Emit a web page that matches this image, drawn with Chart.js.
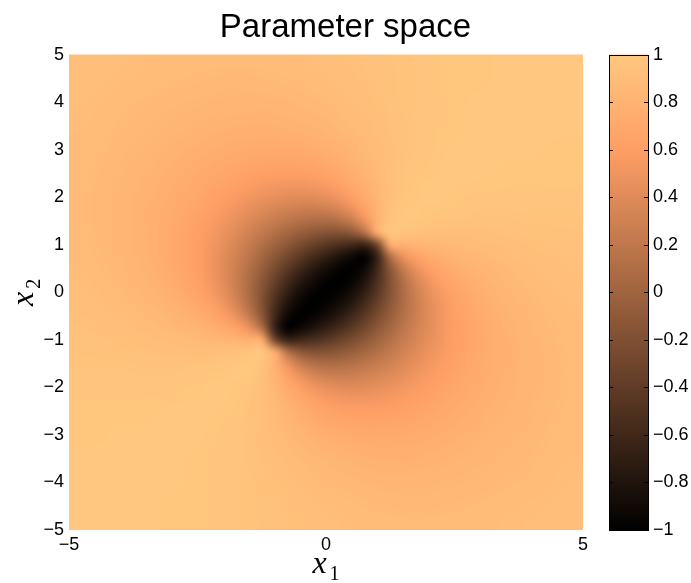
<!DOCTYPE html>
<html>
<head>
<meta charset="utf-8">
<title>Parameter space</title>
<script src="https://cdn.jsdelivr.net/npm/chart.js@4.4.1/dist/chart.umd.min.js"></script>
<style>
  html, body { margin: 0; padding: 0; background: #fff; }
  canvas { display: block; }
</style>
</head>
<body>
<canvas id="paramChart" width="691" height="583"></canvas>
<script>
// --- whole field, step 0.5: columns x1, rows x2 (top row is x2 = 5) ---
const xGrid = [-5, -4.5, -4, -3.5, -3, -2.5, -2, -1.5, -1, -0.5, 0, 0.5, 1, 1.5, 2, 2.5, 3, 3.5, 4, 4.5, 5];
const yGrid = [5, 4.5, 4, 3.5, 3, 2.5, 2, 1.5, 1, 0.5, 0, -0.5, -1, -1.5, -2, -2.5, -3, -3.5, -4, -4.5, -5];

const zRows = [
    [0.92, 0.92, 0.91, 0.90, 0.89, 0.89, 0.89, 0.89, 0.89, 0.90, 0.92, 0.93, 0.95, 0.96, 0.98, 0.99, 0.99, 1, 1, 1, 1],
    [0.92, 0.91, 0.90, 0.89, 0.88, 0.87, 0.86, 0.86, 0.87, 0.88, 0.90, 0.92, 0.94, 0.96, 0.98, 0.99, 0.99, 1, 1, 1, 1],
    [0.91, 0.90, 0.88, 0.87, 0.85, 0.84, 0.83, 0.83, 0.83, 0.85, 0.87, 0.90, 0.93, 0.96, 0.98, 0.99, 1, 1, 1, 1, 1],
    [0.90, 0.89, 0.87, 0.85, 0.83, 0.81, 0.79, 0.78, 0.78, 0.80, 0.83, 0.87, 0.91, 0.95, 0.98, 0.99, 1, 1, 1, 1, 1],
    [0.89, 0.88, 0.85, 0.83, 0.80, 0.77, 0.74, 0.72, 0.71, 0.72, 0.76, 0.82, 0.89, 0.95, 0.98, 1, 1, 1, 1, 0.99, 0.99],
    [0.89, 0.87, 0.84, 0.81, 0.77, 0.72, 0.68, 0.63, 0.60, 0.60, 0.65, 0.75, 0.87, 0.96, 0.99, 1, 1, 0.99, 0.99, 0.99, 0.99],
    [0.89, 0.86, 0.83, 0.79, 0.74, 0.68, 0.60, 0.52, 0.45, 0.41, 0.45, 0.60, 0.83, 0.97, 1, 0.99, 0.98, 0.98, 0.98, 0.98, 0.98],
    [0.89, 0.86, 0.83, 0.78, 0.72, 0.63, 0.52, 0.38, 0.24, 0.12, 0.08, 0.24, 0.78, 1, 0.97, 0.96, 0.95, 0.95, 0.96, 0.96, 0.96],
    [0.89, 0.87, 0.83, 0.78, 0.71, 0.60, 0.45, 0.24, 0.00, -0.24, -0.45, -0.60, -0.50, 0.78, 0.83, 0.87, 0.89, 0.91, 0.93, 0.94, 0.95],
    [0.90, 0.88, 0.85, 0.80, 0.72, 0.60, 0.41, 0.12, -0.24, -0.60, -0.87, -1, -0.60, 0.24, 0.60, 0.75, 0.82, 0.87, 0.90, 0.92, 0.93],
    [0.92, 0.90, 0.87, 0.83, 0.76, 0.65, 0.45, 0.08, -0.45, -0.87, -1, -0.87, -0.45, 0.08, 0.45, 0.65, 0.76, 0.83, 0.87, 0.90, 0.92],
    [0.93, 0.92, 0.90, 0.87, 0.82, 0.75, 0.60, 0.24, -0.60, -1, -0.87, -0.60, -0.24, 0.12, 0.41, 0.60, 0.72, 0.80, 0.85, 0.88, 0.90],
    [0.95, 0.94, 0.93, 0.91, 0.89, 0.87, 0.83, 0.78, -0.50, -0.60, -0.45, -0.24, 0.00, 0.24, 0.45, 0.60, 0.71, 0.78, 0.83, 0.87, 0.89],
    [0.96, 0.96, 0.96, 0.95, 0.95, 0.96, 0.97, 1, 0.78, 0.24, 0.08, 0.12, 0.24, 0.38, 0.52, 0.63, 0.72, 0.78, 0.83, 0.86, 0.89],
    [0.98, 0.98, 0.98, 0.98, 0.98, 0.99, 1, 0.97, 0.83, 0.60, 0.45, 0.41, 0.45, 0.52, 0.60, 0.68, 0.74, 0.79, 0.83, 0.86, 0.89],
    [0.99, 0.99, 0.99, 0.99, 1, 1, 0.99, 0.96, 0.87, 0.75, 0.65, 0.60, 0.60, 0.63, 0.68, 0.72, 0.77, 0.81, 0.84, 0.87, 0.89],
    [0.99, 0.99, 1, 1, 1, 1, 0.98, 0.95, 0.89, 0.82, 0.76, 0.72, 0.71, 0.72, 0.74, 0.77, 0.80, 0.83, 0.85, 0.88, 0.89],
    [1, 1, 1, 1, 1, 0.99, 0.98, 0.95, 0.91, 0.87, 0.83, 0.80, 0.78, 0.78, 0.79, 0.81, 0.83, 0.85, 0.87, 0.89, 0.90],
    [1, 1, 1, 1, 1, 0.99, 0.98, 0.96, 0.93, 0.90, 0.87, 0.85, 0.83, 0.83, 0.83, 0.84, 0.85, 0.87, 0.88, 0.90, 0.91],
    [1, 1, 1, 1, 0.99, 0.99, 0.98, 0.96, 0.94, 0.92, 0.90, 0.88, 0.87, 0.86, 0.86, 0.87, 0.88, 0.89, 0.90, 0.91, 0.92],
    [1, 1, 1, 1, 0.99, 0.99, 0.98, 0.96, 0.95, 0.93, 0.92, 0.90, 0.89, 0.89, 0.89, 0.89, 0.89, 0.90, 0.91, 0.92, 0.92]
];

// --- centre of the field, step 0.25, where the two poles sit ---
const xFine = [-2.5, -2.25, -2, -1.75, -1.5, -1.25, -1, -0.75, -0.5, -0.25, 0, 0.25, 0.5, 0.75, 1, 1.25, 1.5, 1.75, 2, 2.25, 2.5];
const yFine = [2.5, 2.25, 2, 1.75, 1.5, 1.25, 1, 0.75, 0.5, 0.25, 0, -0.25, -0.5, -0.75, -1, -1.25, -1.5, -1.75, -2, -2.25, -2.5];

const zFine = [
    [0.72, 0.70, 0.68, 0.65, 0.63, 0.61, 0.60, 0.60, 0.60, 0.62, 0.65, 0.69, 0.75, 0.81, 0.87, 0.92, 0.96, 0.98, 0.99, 1, 1],
    [0.70, 0.67, 0.64, 0.61, 0.58, 0.55, 0.53, 0.52, 0.52, 0.53, 0.56, 0.62, 0.69, 0.77, 0.85, 0.92, 0.96, 0.99, 1, 1, 1],
    [0.68, 0.64, 0.60, 0.56, 0.52, 0.48, 0.45, 0.42, 0.41, 0.42, 0.45, 0.51, 0.60, 0.72, 0.83, 0.92, 0.97, 0.99, 1, 1, 0.99],
    [0.65, 0.61, 0.56, 0.51, 0.45, 0.40, 0.35, 0.31, 0.28, 0.27, 0.29, 0.35, 0.47, 0.63, 0.81, 0.94, 0.99, 1, 0.99, 0.99, 0.98],
    [0.63, 0.58, 0.52, 0.45, 0.38, 0.31, 0.24, 0.18, 0.12, 0.09, 0.08, 0.12, 0.24, 0.48, 0.78, 0.96, 1, 0.99, 0.97, 0.96, 0.96],
    [0.61, 0.55, 0.48, 0.40, 0.31, 0.22, 0.12, 0.03, -0.05, -0.12, -0.17, -0.18, -0.12, 0.12, 0.75, 1, 0.96, 0.94, 0.92, 0.92, 0.92],
    [0.60, 0.53, 0.45, 0.35, 0.24, 0.12, 0.00, -0.12, -0.24, -0.35, -0.45, -0.53, -0.60, -0.66, -0.30, 0.75, 0.78, 0.81, 0.83, 0.85, 0.87],
    [0.60, 0.52, 0.42, 0.31, 0.18, 0.03, -0.12, -0.28, -0.43, -0.57, -0.69, -0.81, -0.92, -1, -0.66, 0.12, 0.48, 0.63, 0.72, 0.77, 0.81],
    [0.60, 0.52, 0.41, 0.28, 0.12, -0.05, -0.24, -0.43, -0.60, -0.75, -0.87, -0.96, -1, -0.92, -0.60, -0.12, 0.24, 0.47, 0.60, 0.69, 0.75],
    [0.62, 0.53, 0.42, 0.27, 0.09, -0.12, -0.35, -0.57, -0.75, -0.88, -0.97, -1, -0.96, -0.81, -0.53, -0.18, 0.12, 0.35, 0.51, 0.62, 0.69],
    [0.65, 0.56, 0.45, 0.29, 0.08, -0.17, -0.45, -0.69, -0.87, -0.97, -1, -0.97, -0.87, -0.69, -0.45, -0.17, 0.08, 0.29, 0.45, 0.56, 0.65],
    [0.69, 0.62, 0.51, 0.35, 0.12, -0.18, -0.53, -0.81, -0.96, -1, -0.97, -0.88, -0.75, -0.57, -0.35, -0.12, 0.09, 0.27, 0.42, 0.53, 0.62],
    [0.75, 0.69, 0.60, 0.47, 0.24, -0.12, -0.60, -0.92, -1, -0.96, -0.87, -0.75, -0.60, -0.43, -0.24, -0.05, 0.12, 0.28, 0.41, 0.52, 0.60],
    [0.81, 0.77, 0.72, 0.63, 0.48, 0.12, -0.66, -1, -0.92, -0.81, -0.69, -0.57, -0.43, -0.28, -0.12, 0.03, 0.18, 0.31, 0.42, 0.52, 0.60],
    [0.87, 0.85, 0.83, 0.81, 0.78, 0.75, -0.30, -0.66, -0.60, -0.53, -0.45, -0.35, -0.24, -0.12, 0.00, 0.12, 0.24, 0.35, 0.45, 0.53, 0.60],
    [0.92, 0.92, 0.92, 0.94, 0.96, 1, 0.75, 0.12, -0.12, -0.18, -0.17, -0.12, -0.05, 0.03, 0.12, 0.22, 0.31, 0.40, 0.48, 0.55, 0.61],
    [0.96, 0.96, 0.97, 0.99, 1, 0.96, 0.78, 0.48, 0.24, 0.12, 0.08, 0.09, 0.12, 0.18, 0.24, 0.31, 0.38, 0.45, 0.52, 0.58, 0.63],
    [0.98, 0.99, 0.99, 1, 0.99, 0.94, 0.81, 0.63, 0.47, 0.35, 0.29, 0.27, 0.28, 0.31, 0.35, 0.40, 0.45, 0.51, 0.56, 0.61, 0.65],
    [0.99, 1, 1, 0.99, 0.97, 0.92, 0.83, 0.72, 0.60, 0.51, 0.45, 0.42, 0.41, 0.42, 0.45, 0.48, 0.52, 0.56, 0.60, 0.64, 0.68],
    [1, 1, 1, 0.99, 0.96, 0.92, 0.85, 0.77, 0.69, 0.62, 0.56, 0.53, 0.52, 0.52, 0.53, 0.55, 0.58, 0.61, 0.64, 0.67, 0.70],
    [1, 1, 0.99, 0.98, 0.96, 0.92, 0.87, 0.81, 0.75, 0.69, 0.65, 0.62, 0.60, 0.60, 0.60, 0.61, 0.63, 0.65, 0.68, 0.70, 0.72]
];

// tick labels
const xTicks = [-5, 0, 5];
const yTicks = [-5, -4, -3, -2, -1, 0, 1, 2, 3, 4, 5];
const cbTicks = [-1, -0.8, -0.6, -0.4, -0.2, 0, 0.2, 0.4, 0.6, 0.8, 1];

const FONT = "'Liberation Sans', Arial, Helvetica, sans-serif";
const MATH_FONT = "'Liberation Serif', 'Times New Roman', serif";

Chart.defaults.font.family = FONT;
Chart.defaults.color = '#000';

// copper colormap, value in [-1, 1]
function copper(v) {
    const t = Math.max(0, Math.min(1, (v + 1) / 2));
    return [Math.min(1, 1.25 * t) * 255, 0.7812 * t * 255, 0.4975 * t * 255];
}

function fmtTick(v) {
    const r = Math.round(v * 10) / 10;
    return (r < 0 ? '\u2212' : '') + Math.abs(r);
}

function setTicks(list) {
    return scale => { scale.ticks = list.map(v => ({ value: v })); };
}

// one pixel per grid node; the browser smooths it when stretched
function buildImage(rows) {
    const off = document.createElement('canvas');
    off.width = rows[0].length;
    off.height = rows.length;
    const octx = off.getContext('2d');
    const img = octx.createImageData(off.width, off.height);
    rows.forEach((row, j) => {
        row.forEach((v, i) => {
            const c = copper(v);
            const k = (j * off.width + i) * 4;
            img.data[k] = Math.round(c[0]);
            img.data[k + 1] = Math.round(c[1]);
            img.data[k + 2] = Math.round(c[2]);
            img.data[k + 3] = 255;
        });
    });
    octx.putImageData(img, 0, 0);
    return off;
}

const layers = [
    { xs: xGrid, ys: yGrid, img: buildImage(zRows) },
    { xs: xFine, ys: yFine, img: buildImage(zFine) }
];

function drawLayer(ctx, layer, xScale, yScale, clip) {
    const { xs, ys, img } = layer;
    const dx = Math.abs(xs[1] - xs[0]);
    const dy = Math.abs(ys[1] - ys[0]);
    const left = xScale.getPixelForValue(xs[0] - dx / 2);
    const right = xScale.getPixelForValue(xs[xs.length - 1] + dx / 2);
    const top = yScale.getPixelForValue(ys[0] + dy / 2);
    const bottom = yScale.getPixelForValue(ys[ys.length - 1] - dy / 2);
    ctx.save();
    ctx.beginPath();
    ctx.rect(clip.left, clip.top, clip.right - clip.left, clip.bottom - clip.top);
    ctx.clip();
    ctx.imageSmoothingEnabled = true;
    ctx.imageSmoothingQuality = 'high';
    ctx.drawImage(img, left, top, right - left, bottom - top);
    ctx.restore();
}

const fieldPlugin = {
    id: 'field',
    beforeDatasetsDraw(chart) {
        const { ctx, chartArea, scales } = chart;
        const xs = scales.x, ys = scales.y;
        // coarse layer over the whole axes, fine layer only between its outer nodes
        drawLayer(ctx, layers[0], xs, ys, chartArea);
        const f = layers[1];
        drawLayer(ctx, f, xs, ys, {
            left: xs.getPixelForValue(f.xs[0]),
            right: xs.getPixelForValue(f.xs[f.xs.length - 1]),
            top: ys.getPixelForValue(f.ys[0]),
            bottom: ys.getPixelForValue(f.ys[f.ys.length - 1])
        });
    },
    afterDraw(chart) {
        const { ctx, scales } = chart;
        const cb = scales.cb;

        // colorbar
        const barL = cb.left + 26, barR = cb.left + 65;
        const yTop = cb.getPixelForValue(1), yBot = cb.getPixelForValue(-1);
        const grad = ctx.createLinearGradient(0, yBot, 0, yTop);
        [0, 0.8, 1].forEach(t => {
            const c = copper(t * 2 - 1).map(Math.round);
            grad.addColorStop(t, `rgb(${c[0]},${c[1]},${c[2]})`);
        });
        ctx.save();
        ctx.fillStyle = grad;
        ctx.fillRect(barL, yTop, barR - barL, yBot - yTop);
        ctx.strokeStyle = '#000';
        ctx.lineWidth = 1;
        ctx.beginPath();
        cbTicks.forEach(v => {
            const y = Math.round(cb.getPixelForValue(v)) + 0.5;
            ctx.moveTo(barL, y); ctx.lineTo(barL + 4, y);
            ctx.moveTo(barR - 4, y); ctx.lineTo(barR, y);
        });
        ctx.stroke();
        ctx.strokeRect(Math.round(barL) + 0.5, Math.round(yTop) + 0.5, Math.round(barR - barL), Math.round(yBot - yTop));
        ctx.restore();

        // axis labels x_1 and x_2
        const drawLabel = (sub) => {
            ctx.font = `italic 32px ${MATH_FONT}`;
            const wx = ctx.measureText('x').width;
            ctx.font = `20px ${MATH_FONT}`;
            const ws = ctx.measureText(sub).width;
            const start = -(wx + 3 + ws) / 2;
            ctx.textBaseline = 'alphabetic';
            ctx.textAlign = 'left';
            ctx.fillStyle = '#000';
            ctx.font = `italic 32px ${MATH_FONT}`;
            ctx.fillText('x', start, 0);
            ctx.font = `20px ${MATH_FONT}`;
            ctx.fillText(sub, start + wx + 3, 7);
        };
        ctx.save();
        ctx.translate(scales.x.getPixelForValue(0), 573);
        drawLabel('1');
        ctx.restore();

        ctx.save();
        ctx.translate(33, scales.y.getPixelForValue(0));
        ctx.rotate(-Math.PI / 2);
        drawLabel('2');
        ctx.restore();
    }
};

const tickFont = { size: 18 };

// vertical scales: no extra room above/below the plot for the end labels
function fixVertical(width) {
    return s => {
        s.width = width;
        s.paddingTop = 0;
        s.paddingBottom = 0;
    };
}

new Chart(document.getElementById('paramChart'), {
    type: 'scatter',
    data: { datasets: [{ data: [], pointRadius: 0 }] },
    options: {
        responsive: false,
        animation: false,
        devicePixelRatio: 1,
        layout: { padding: 0 },
        plugins: {
            legend: { display: false },
            tooltip: { enabled: false },
            title: {
                display: true,
                text: 'Parameter space',
                color: '#000',
                font: { size: 33, weight: 'normal' },
                padding: { top: 8, bottom: 7 }
            }
        },
        scales: {
            x: {
                type: 'linear', position: 'bottom', min: -5, max: 5,
                grid: { display: false, drawTicks: false },
                border: { display: false },
                afterBuildTicks: setTicks(xTicks),
                afterFit: s => { s.height = 53; s.paddingLeft = 0; s.paddingRight = 0; },
                ticks: { font: tickFont, color: '#000', padding: 4, maxRotation: 0, autoSkip: false, callback: fmtTick }
            },
            y: {
                type: 'linear', position: 'left', min: -5, max: 5,
                grid: { display: false, drawTicks: false },
                border: { display: false },
                afterBuildTicks: setTicks(yTicks),
                afterFit: fixVertical(69),
                ticks: { font: tickFont, color: '#000', padding: 5, autoSkip: false, callback: fmtTick }
            },
            cb: {
                type: 'linear', position: 'right', min: -1, max: 1,
                grid: { display: false, drawTicks: false },
                border: { display: false },
                afterBuildTicks: setTicks(cbTicks),
                afterFit: fixVertical(108),
                ticks: { font: tickFont, color: '#000', padding: 70, autoSkip: false, callback: fmtTick }
            }
        }
    },
    plugins: [fieldPlugin]
});
</script>
</body>
</html>
